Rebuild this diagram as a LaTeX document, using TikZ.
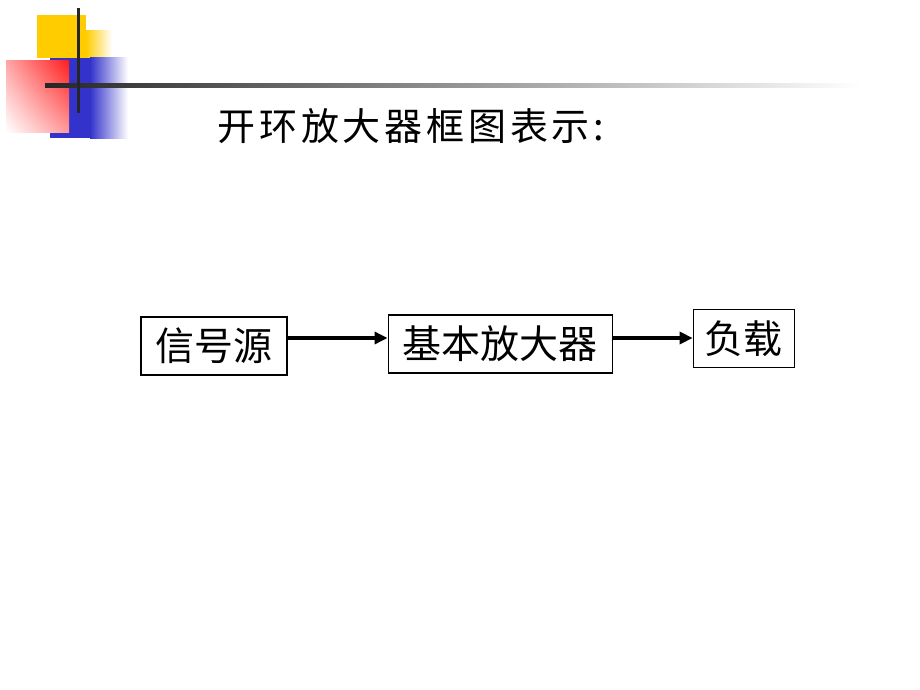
\documentclass[tikz,border=0pt]{standalone}
\usepackage{fontspec}
\newfontfamily\cjk{Noto Sans CJK SC}
\newfontfamily\cjktitle[LetterSpace=10]{Noto Sans CJK SC}
\usetikzlibrary{positioning,arrows.meta,shadings}
\definecolor{deco yellow}{RGB}{255,204,0}
\definecolor{deco blue}{RGB}{51,51,204}
\definecolor{deco red}{RGB}{255,30,30}
\begin{document}
\begin{tikzpicture}[x=1pt,y=-1pt,
    block/.style = {draw, line width=1.1pt, minimum height=58pt, inner sep=0pt,
                    font=\cjk\fontsize{39}{42}\selectfont},
    link/.style = {line width=3.5pt, -{Triangle[length=13pt,width=12pt]}}]
    \useasboundingbox (0,0) rectangle (920,690);
    % corner decoration
    \fill[deco yellow] (37,15) rectangle (86,58);
    \shade[left color=deco yellow, right color=white] (86,31) rectangle (112,58);
    \fill[deco blue] (50,58) rectangle (90,138);
    \shade[left color=deco blue, right color=white] (90,58) rectangle (128,138);
    \shade[upper right=deco red, upper left=red!35, lower right=red!40, lower left=white]
        (6,61) rectangle (69,132);
    \shade[left color=black!85, right color=white] (45,84) rectangle (860,88);
    \draw[line width=3pt, black!85] (78,8) -- (78,113);
    % title
    \node (title) at (411,126) {\cjktitle\fontsize{38}{42}\selectfont 开环放大器框图表示:};
    % blocks
    \node[block, minimum width=146pt] (src) at (214,346) {信号源};
    \node[block, minimum width=224pt, right=100pt of src, yshift=2pt] (amp) {基本放大器};
    \node[block, minimum width=101pt, right=80pt of amp, yshift=5.5pt] (load) {负载};
    \coordinate (lvl) at (0,338);
    \draw[link] (src.east |- lvl) -- (amp.west |- lvl);
    \draw[link] (amp.east |- lvl) -- (load.west |- lvl);
\end{tikzpicture}
\end{document}
